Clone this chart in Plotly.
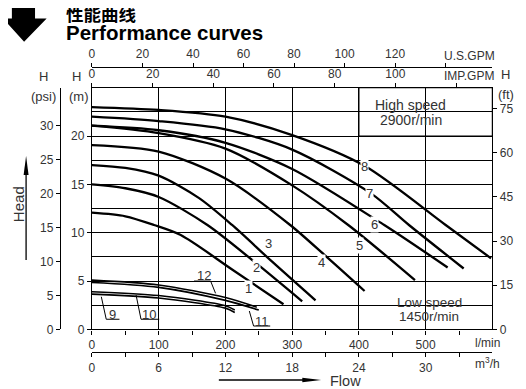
import plotly.graph_objects as go

# ---------------- data (flow in l/min, head in m) ----------------
curve_names = ["1", "2", "3", "4", "5", "6", "7", "8"]
q1 = [0, 50, 93, 133, 210, 287]
h1 = [12.07, 11.7, 10.8, 9.76, 6.2, 2.6]
q2 = [0, 50, 100, 173, 245, 315]
h2 = [15.0, 14.6, 13.7, 10.8, 6.9, 2.9]
q3 = [0, 50, 100, 160, 210, 270, 335]
h3 = [17.0, 16.7, 15.9, 13.6, 10.8, 7.0, 3.0]
q4 = [0, 100, 200, 297, 350, 408.5]
h4 = [19.07, 18.4, 15.6, 10.8, 7.6, 3.97]
q5 = [0, 100, 200, 300, 384, 484]
h5 = [21.07, 20.3, 18.7, 14.9, 10.8, 5.1]
q6 = [0, 100, 200, 300, 438, 533]
h6 = [21.07, 20.6, 19.3, 16.6, 10.8, 6.4]
q7 = [0, 100, 200, 300, 418, 475, 557]
h7 = [22.0, 21.55, 20.7, 18.6, 14.07, 10.8, 6.3]
q8 = [0, 100, 200, 300, 409, 530, 598]
h8 = [23.0, 22.7, 22.0, 20.1, 16.9, 10.8, 7.35]

# low speed curves
q9 = [0, 100, 200, 214]
h9 = [3.65, 3.25, 2.2, 1.75]
q10 = [0, 100, 200, 214]
h10 = [3.9, 3.5, 2.45, 2.0]
q11 = [0, 100, 200, 250]
h11 = [4.85, 4.35, 3.0, 2.0]
q12 = [0, 100, 200, 247]
h12 = [5.1, 4.6, 3.3, 2.3]

# axis ticks
lpm_ticks = [0, 100, 200, 300, 400, 500]
lpm_minor = [50, 150, 250, 350, 450, 550]
m3h_ticks = [0, 6, 12, 18, 24, 30]
m3h_minor = [3, 9, 15, 21, 27, 33]
imp_ticks = [0, 20, 40, 60, 80, 100, 120]
imp_text = ["0", "20", "40", "60", "80", "100", " "]
us_ticks = [0, 20, 40, 60, 80, 100, 120, 140]
us_text = ["0", "20", "40", "60", "80", "100", "120", " "]
m_ticks = [0, 5, 10, 15, 20]
m_minor = [2.5, 7.5, 12.5, 17.5, 22.5]
psi_ticks = [0, 5, 10, 15, 20, 25, 30]
ft_ticks = [0, 15, 30, 45, 60, 75]

Q_MAX = 600
H_MAX = 25

# ---------------- layout helpers ----------------
# the page body adds an 8px offset; the figure is sized to fill the rest of the window
OFF = 8
W, HGT = 518, 381
ML, MR, MT, MB = 32, 20, 52, 30
PW = W - ML - MR
PH = HGT - MT - MB


def px(x):
    """window pixel x -> paper fraction"""
    return (x - OFF - ML) / PW


def py(y):
    """window pixel y -> paper fraction"""
    return (HGT - MB - (y - OFF)) / PH


XD = [px(92.3), px(495.3)]
YD = [py(329.4), py(87.7)]

FONT = "Liberation Sans, Arial, sans-serif"
TXT = "#333333"
tickfont = dict(family=FONT, size=12, color=TXT)

fig = go.Figure()

high = [(q1, h1), (q2, h2), (q3, h3), (q4, h4), (q5, h5), (q6, h6), (q7, h7), (q8, h8)]
for (q, h), name in zip(high, curve_names):
    fig.add_trace(go.Scatter(x=q, y=h, mode="lines", name=name,
                             line=dict(color="black", width=2.3, shape="spline", smoothing=0.8),
                             hoverinfo="skip", showlegend=False))
for q, h in [(q9, h9), (q10, h10), (q11, h11), (q12, h12)]:
    fig.add_trace(go.Scatter(x=q, y=h, mode="lines",
                             line=dict(color="black", width=1.6, shape="spline", smoothing=0.8),
                             hoverinfo="skip", showlegend=False))

# dummy traces so every axis is drawn
for xa, ya in [("x2", "y"), ("x3", "y"), ("x4", "y"), ("x", "y2"), ("x", "y3")]:
    fig.add_trace(go.Scatter(x=[None], y=[None], xaxis=xa, yaxis=ya, mode="lines",
                             showlegend=False, hoverinfo="skip"))

axis_common = dict(showline=True, linecolor="black", linewidth=1.2, ticks="outside",
                   ticklen=4, tickcolor="black", tickwidth=1.2, zeroline=False,
                   tickfont=tickfont, fixedrange=True)

fig.update_layout(
    width=W, height=HGT,
    margin=dict(l=ML, r=MR, t=MT, b=MB),
    paper_bgcolor="white", plot_bgcolor="white",
    showlegend=False,
    xaxis=dict(domain=XD, range=[0, Q_MAX], anchor="y", tickmode="array", tickvals=lpm_ticks,
               showgrid=True, gridcolor="black", gridwidth=1.2,
               minor=dict(tickvals=lpm_minor, ticks="outside", ticklen=4, tickcolor="black",
                          tickwidth=1.2, showgrid=False),
               **axis_common),
    xaxis2=dict(overlaying="x", anchor="free", position=py(352.3), side="bottom",
                range=[0, Q_MAX * 0.06], tickmode="array", tickvals=m3h_ticks, showgrid=False,
                minor=dict(tickvals=m3h_minor, ticks="outside", ticklen=4, tickcolor="black",
                           tickwidth=1.2, showgrid=False),
                **axis_common),
    xaxis3=dict(overlaying="x", anchor="y", side="top", range=[0, Q_MAX / 4.546],
                tickmode="array", tickvals=imp_ticks, ticktext=imp_text, showgrid=False,
                **axis_common),
    xaxis4=dict(overlaying="x", anchor="free", position=py(67.3), side="top",
                range=[0, Q_MAX / 3.785], tickmode="array", tickvals=us_ticks, ticktext=us_text,
                showgrid=False, **axis_common),
    yaxis=dict(domain=YD, range=[0, H_MAX], anchor="x", tickmode="array", tickvals=m_ticks,
               showgrid=True, gridcolor="black", gridwidth=1.2,
               minor=dict(tickvals=m_minor, showgrid=True, gridcolor="black", gridwidth=1.2,
                          ticks=""),
               **axis_common),
    yaxis2=dict(overlaying="y", anchor="free", position=px(60), side="left",
                range=[0, H_MAX / 0.70307], tickmode="array", tickvals=psi_ticks,
                showgrid=False, **axis_common),
    yaxis3=dict(overlaying="y", anchor="x", side="right", range=[0, H_MAX * 3.28084],
                tickmode="array", tickvals=ft_ticks, showgrid=False, **axis_common),
)

shapes = []
# high speed box and low speed mask
shapes.append(dict(type="rect", xref="x", yref="y", x0=400, x1=600, y0=20, y1=25,
                   fillcolor="white", line=dict(color="black", width=1.2), layer="below"))
shapes.append(dict(type="rect", xref="x", yref="y", x0=437, x1=580, y0=0.15, y1=4.3,
                   fillcolor="white", line=dict(width=0), layer="below"))
# leader lines for low speed labels
leaders = [
    [(14.0, 3.38), (21.4, 1.05), (41.2, 1.05)],
    [(66.1, 3.56), (73.5, 1.05), (100.8, 1.05)],
    [(235.8, 1.9), (242.2, 0.35), (267.1, 0.35)],
    [(152.9, 5.0), (177.8, 5.0), (185.2, 3.73)],
]
for pts in leaders:
    path = "M " + " L ".join(f"{a},{b}" for a, b in pts)
    shapes.append(dict(type="path", xref="x", yref="y", path=path,
                       line=dict(color="black", width=1)))

# title arrow
arrow = [(11.7, 1), (35, 1), (35, 18.5), (46.7, 18.5), (24, 41.7), (2.7, 18.5), (11.7, 18.5)]
shapes.append(dict(type="path", xref="paper", yref="paper",
                   path="M " + " L ".join(f"{px(a)},{py(b)}" for a, b in arrow) + " Z",
                   fillcolor="black", line=dict(color="black", width=0)))
# Head arrow
shapes.append(dict(type="line", xref="paper", yref="paper", x0=px(26), x1=px(26),
                   y0=py(260), y1=py(172), line=dict(color="black", width=1.3)))
shapes.append(dict(type="path", xref="paper", yref="paper",
                   path=f"M {px(23.5)},{py(175)} L {px(28.5)},{py(175)} L {px(26)},{py(156)} Z",
                   fillcolor="black", line=dict(width=0)))
# Flow arrow
shapes.append(dict(type="line", xref="paper", yref="paper", x0=px(220), x1=px(308),
                   y0=py(380), y1=py(380), line=dict(color="black", width=1.3)))
shapes.append(dict(type="path", xref="paper", yref="paper",
                   path=f"M {px(304)},{py(377.8)} L {px(304)},{py(382.2)} L {px(323)},{py(380)} Z",
                   fillcolor="black", line=dict(width=0)))
fig.update_layout(shapes=shapes)

ann = []


def ptxt(x, y, text, size=12, **kw):
    d = dict(xref="paper", yref="paper", x=px(x), y=py(y), text=text, showarrow=False,
             font=dict(family=kw.pop("family", FONT), size=size, color=kw.pop("color", TXT)),
             xanchor=kw.pop("xanchor", "center"), yanchor=kw.pop("yanchor", "middle"))
    d.update(kw)
    ann.append(d)


ptxt(64, 13, "<b>性能曲线</b>", size=17.5, family="Noto Sans CJK SC", color="black",
     xanchor="left")
ptxt(64, 32.5, "<b>Performance curves</b>", size=20.5, color="black", xanchor="left")

ptxt(472, 56, "U.S.GPM")
ptxt(472, 76, "IMP.GPM")
ptxt(490, 343, "l/min")
ptxt(490, 363, "m<sup>3</sup>/h")
ptxt(44, 77, "H", size=13)
ptxt(44, 96, "(psi)", size=13)
ptxt(77, 77, "H", size=13)
ptxt(79, 96, "(m)", size=13)
ptxt(509, 75, "H", size=13)
ptxt(509, 94, "(ft)", size=13)
ptxt(18, 204, "Head", size=15, textangle=-90)
ptxt(347, 381, "Flow", size=14.5)
ptxt(413, 105, "High speed", size=14)
ptxt(413, 120, "2900r/min", size=14)
ptxt(432, 302, "Low speed", size=13.5)
ptxt(432, 316.5, "1450r/min", size=13.5)

# curve labels (data coordinates)
label_pos = {
    "1": (234.8, 4.28), "2": (246.7, 6.45), "3": (264.5, 8.93), "4": (343.5, 6.97),
    "5": (401, 8.73), "6": (423.4, 10.8), "7": (416, 14.1), "8": (409, 16.85),
}
for k, (xq, yh) in label_pos.items():
    ann.append(dict(xref="x", yref="y", x=xq, y=yh, text=k, showarrow=False,
                    font=dict(family=FONT, size=13, color=TXT), bgcolor="white", borderpad=0))
low_pos = {"9": (31.3, 1.56), "10": (85.9, 1.56), "11": (254.6, 0.8), "12": (167.8, 5.55)}
for k, (xq, yh) in low_pos.items():
    ann.append(dict(xref="x", yref="y", x=xq, y=yh, text=k, showarrow=False,
                    font=dict(family=FONT, size=13, color=TXT)))

fig.update_layout(annotations=ann)
fig.write_html("out.html")
